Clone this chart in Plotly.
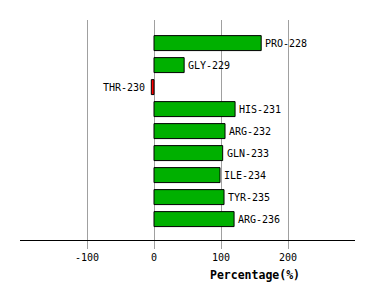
import plotly.graph_objects as go

residues = ["PRO-228", "GLY-229", "THR-230", "HIS-231", "ARG-232", "GLN-233", "ILE-234", "TYR-235", "ARG-236"]
percentages = [160, 45, -4, 121, 106, 102.5, 98.5, 104.5, 119.5]
colors = ["#00b000" if v >= 0 else "#ff0000" for v in percentages]

fig = go.Figure()
fig.add_trace(go.Bar(
    y=residues, x=percentages, orientation="h",
    marker=dict(color=colors, line=dict(color="black", width=1)),
    width=0.68,
    cliponaxis=False,
))

annotations = []
for name, v in zip(residues, percentages):
    annotations.append(dict(
        x=v, y=name, xref="x", yref="y", text=name, showarrow=False,
        xanchor="left" if v >= 0 else "right", xshift=2 if v >= 0 else -4,
        yanchor="middle",
        font=dict(family="DejaVu Sans Mono", size=10, color="black"),
    ))
annotations.append(dict(
    text="<b>Percentage(%)</b>", x=(255 - 20) / 335, y=(240 - 275) / 220,
    xref="paper", yref="paper", xanchor="center", yanchor="middle",
    showarrow=False, font=dict(family="DejaVu Sans Mono", size=11.5, color="black"),
))

fig.update_layout(
    width=374, height=300,
    margin=dict(l=20, r=19, t=20, b=60),
    plot_bgcolor="white", paper_bgcolor="white",
    showlegend=False,
    xaxis=dict(
        range=[-200, 300],
        tickvals=[-100, 0, 100, 200],
        ticktext=["-100", "0", "100", "200"],
        showgrid=True, gridcolor="#a0a0a0", gridwidth=1,
        zeroline=False,
        showline=True, linecolor="black", linewidth=1,
        ticks="outside", ticklen=8, tickcolor="#a0a0a0",
        tickfont=dict(family="DejaVu Sans Mono", size=10, color="black"),
    ),
    yaxis=dict(
        categoryorder="array", categoryarray=residues,
        autorange=False, range=[8.95, -1.05],
        showticklabels=False, showgrid=False, zeroline=False, showline=False,
    ),
    annotations=annotations,
)

fig.write_html("out.html")
